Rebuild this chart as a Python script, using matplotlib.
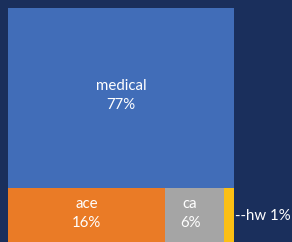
import matplotlib
matplotlib.use("Agg")
import matplotlib.pyplot as plt
from matplotlib.patches import Rectangle

categories = ["medical", "ace", "ca", "hw"]
values = [77, 16, 6, 1]
colors = ["#416db8", "#ea7b26", "#a5a5a5", "#fbbf14"]
bg = "#1a2f5c"

W, H = 292, 242
fig = plt.figure(figsize=(W / 100, H / 100), dpi=100, facecolor=bg)
ax = fig.add_axes([8 / W, 0, 226 / W, 234 / H])
ax.set_xlim(0, 1)
ax.set_ylim(0, 1)
ax.axis("off")

total = sum(values)
font = ["Lato", "DejaVu Sans"]
fs = 10.8

# top block: first category, full width
top_h = values[0] / total
ax.add_patch(Rectangle((0, 1 - top_h), 1, top_h, facecolor=colors[0], edgecolor="none"))
ax.text(0.5, 1 - top_h / 2 + 0.01, f"{categories[0]}\n{values[0]}%", ha="center", va="center",
        color="white", fontsize=fs, family=font, linespacing=1.45)

# bottom strip: remaining categories side by side
strip_h = 1 - top_h
rest = sum(values[1:])
x = 0.0
for cat, v, c in zip(categories[1:], values[1:], colors[1:]):
    w = v / rest
    ax.add_patch(Rectangle((x, 0), w, strip_h, facecolor=c, edgecolor="none"))
    if v >= 5:
        ax.text(x + w / 2 - (0.02 if v < 10 else 0), strip_h / 2 + 0.005, f"{cat}\n{v}%",
                ha="center", va="center", color="white", fontsize=fs, family=font,
                linespacing=1.45)
    else:
        ax.text(1.003, strip_h / 2 - 0.005, f"--{cat} {v}%", ha="left", va="center",
                color="white", fontsize=fs, family=font, clip_on=False)
    x += w

fig.savefig("out.png", dpi=100, facecolor=bg)
